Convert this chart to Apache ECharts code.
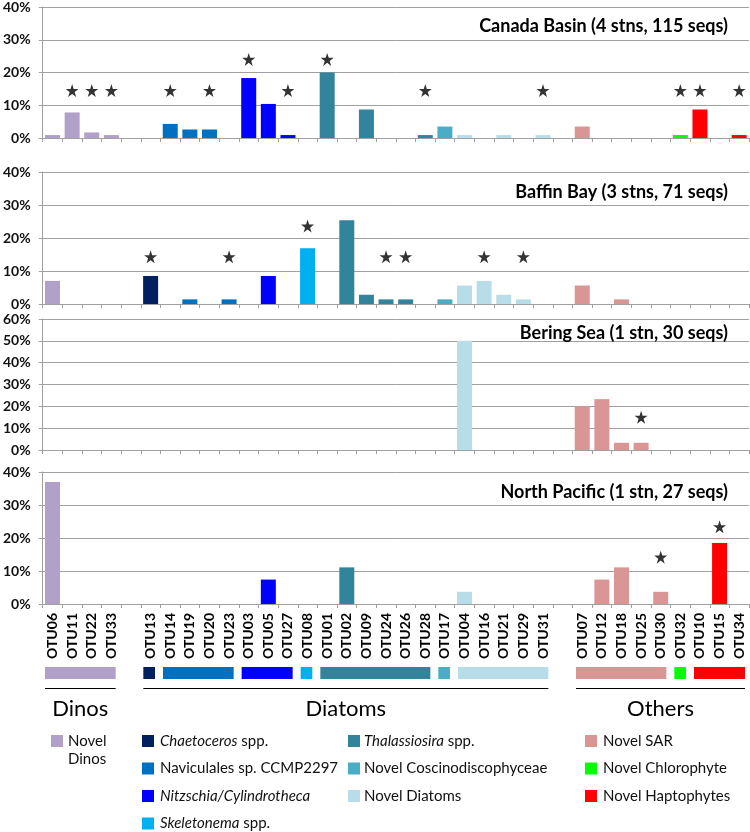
<!DOCTYPE html>
<html><head><meta charset="utf-8">
<script src="https://cdn.jsdelivr.net/npm/echarts@6/dist/echarts.min.js"></script>
<style>html,body{margin:0;padding:0;background:#fff}#c{width:750px;height:832px}</style>
</head><body><div id="c"></div>
<script>
// ---------- DATA ----------
const categories = ['OTU06','OTU11','OTU22','OTU33','',
  'OTU13','OTU14','OTU19','OTU20','OTU23','OTU03','OTU05','OTU27','OTU08','OTU01','OTU02','OTU09','OTU24','OTU26','OTU28','OTU17','OTU04','OTU16','OTU21','OTU29','OTU31',' ',
  'OTU07','OTU12','OTU18','OTU25','OTU30','OTU32','OTU10','OTU15','OTU34'];

const canadaValues  = [0.9,7.8,1.7,0.9,null, 0,4.3,2.6,2.6,0,18.3,10.4,0.9,0,20.0,0,8.7,0,0,0.9,3.5,0.9,0,0.9,0,0.9,null, 3.5,0,0,0,0,0.9,8.7,0,0.9];
const baffinValues  = [7.0,0,0,0,null, 8.5,0,1.4,0,1.4,0,8.5,0,16.9,0,25.4,2.8,1.4,1.4,0,1.4,5.6,7.0,2.8,1.4,0,null, 5.6,0,1.4,0,0,0,0,0,0];
const beringValues  = [0,0,0,0,null, 0,0,0,0,0,0,0,0,0,0,0,0,0,0,0,0,50.0,0,0,0,0,null, 20.0,23.3,3.3,3.3,0,0,0,0,0];
const pacificValues = [37.0,0,0,0,null, 0,0,0,0,0,0,7.4,0,0,0,11.1,0,0,0,0,0,3.7,0,0,0,0,null, 0,7.4,11.1,0,3.7,0,0,18.5,0];

const canadaStars  = [['OTU11',14.5],['OTU22',14.5],['OTU33',14.5],['OTU14',14.5],['OTU20',14.5],['OTU03',24],['OTU27',14.5],['OTU01',24],['OTU28',14.5],['OTU31',14.5],['OTU32',14.5],['OTU10',14.5],['OTU34',14.5]];
const baffinStars  = [['OTU13',14.3],['OTU23',14.3],['OTU08',23.6],['OTU24',14.3],['OTU26',14.3],['OTU16',14.3],['OTU29',14.3]];
const beringStars  = [['OTU25',15]];
const pacificStars = [['OTU30',14.2],['OTU15',23.4]];

const panelTitles = ['Canada Basin (4 stns, 115 seqs)','Baffin Bay (3 stns, 71 seqs)','Bering Sea (1 stn, 30 seqs)','North Pacific (1 stn, 27 seqs)'];
const panelMax = [40,40,60,40];

const groupLabels = ['Novel\nDinos','{i|Chaetoceros} spp.','Naviculales sp. CCMP2297','{i|Nitzschia/Cylindrotheca}','{i|Skeletonema} spp.','{i|Thalassiosira} spp.','Novel Coscinodiscophyceae','Novel Diatoms','Novel SAR','Novel Chlorophyte','Novel Haptophytes'];
const groupColors = ['#b1a0c7','#002060','#0070c0','#0000ff','#00b0f0','#31849b','#4bacc6','#b7dee8','#da9694','#00ff00','#ff0000'];
const groupMembers = [
  ['OTU06','OTU11','OTU22','OTU33'],
  ['OTU13'],
  ['OTU14','OTU19','OTU20','OTU23'],
  ['OTU03','OTU05','OTU27'],
  ['OTU08'],
  ['OTU01','OTU02','OTU09','OTU24','OTU26','OTU28'],
  ['OTU17'],
  ['OTU04','OTU16','OTU21','OTU29','OTU31'],
  ['OTU07','OTU12','OTU18','OTU25','OTU30'],
  ['OTU32'],
  ['OTU10','OTU15','OTU34']
];
const superGroups = [['Dinos','OTU06','OTU33'],['Diatoms','OTU13','OTU31'],['Others','OTU07','OTU34']];

// ---------- LAYOUT ----------
const FONT = 'Lato';
const gridTops = [6,172,319,472];
const gridHeights = [132,132,131,132];
const L = 41, R = 1;

const colorOf = {};
groupMembers.forEach((m,g)=>m.forEach(o=>colorOf[o]=groupColors[g]));

const allValues = [canadaValues,baffinValues,beringValues,pacificValues];
const allStars = [canadaStars,baffinStars,beringStars,pacificStars];

const STAR = 'path://M50,0 L61.8,36.2 L100,36.2 L69.1,58.6 L80.9,95.1 L50,72.7 L19.1,95.1 L30.9,58.6 L0,36.2 L38.2,36.2 Z';

const grids=[], xAxes=[], yAxes=[], series=[], titles=[];
for(let p=0;p<4;p++){
  grids.push({left:L,right:R,top:gridTops[p],height:gridHeights[p]});
  xAxes.push({type:'category',gridIndex:p,data:categories,boundaryGap:true,
    axisLine:{lineStyle:{color:'#a0a0a0',width:1}},
    axisTick:{show:true,interval:0,length:4,lineStyle:{color:'#a0a0a0'}},
    axisLabel:p===3?{show:true,interval:0,rotate:90,margin:9,fontFamily:FONT,fontWeight:'bold',fontSize:14,color:'#000'}:{show:false},
    splitLine:{show:false}});
  yAxes.push({type:'value',gridIndex:p,min:0,max:panelMax[p],interval:10,
    axisLine:{show:true,lineStyle:{color:'#a0a0a0'}},
    axisTick:{show:true,length:4,lineStyle:{color:'#a0a0a0'}},
    axisLabel:{formatter:'{value}%',fontFamily:FONT,fontWeight:'bold',fontSize:14,color:'#111',margin:12},
    splitLine:{lineStyle:{color:'#a0a0a0',width:1}}});
  series.push({type:'bar',xAxisIndex:p,yAxisIndex:p,barWidth:15,
    data:allValues[p].map((v,i)=>({value:v,itemStyle:{color:colorOf[categories[i]]||'#000'}}))});
  series.push({type:'scatter',xAxisIndex:p,yAxisIndex:p,symbol:STAR,symbolSize:13,
    itemStyle:{color:'#000'},z:5,
    data:allStars[p].map(s=>[categories.indexOf(s[0]),s[1]])});
  titles.push({text:panelTitles[p],right:17,top:gridTops[p]+6+(p===2?-6:0),
    textStyle:{fontFamily:FONT,fontWeight:'bold',fontSize:18,color:'#000'}});
}
// annotation grid (group colour strips, brackets, group names)
grids.push({left:L,right:R,top:667,height:12});
xAxes.push({type:'category',gridIndex:4,data:categories,show:false});
yAxes.push({type:'value',gridIndex:4,min:0,max:1,show:false});

series.push({type:'custom',xAxisIndex:4,yAxisIndex:4,clip:false,
  data:groupMembers.map((m,g)=>[categories.indexOf(m[0]),categories.indexOf(m[m.length-1]),g]),
  renderItem:function(params,api){
    const a=api.coord([api.value(0),0]), b=api.coord([api.value(1),0]);
    const band=api.size([1,0])[0];
    const cs=params.coordSys;
    const x0=a[0]-band/2+4, x1=b[0]+band/2-4;
    return {type:'rect',shape:{x:x0,y:cs.y,width:x1-x0,height:cs.height},style:{fill:groupColors[api.value(2)]}};
  }});
series.push({type:'custom',xAxisIndex:4,yAxisIndex:4,clip:false,
  data:superGroups.map((s,k)=>[categories.indexOf(s[1]),categories.indexOf(s[2]),k]),
  renderItem:function(params,api){
    const a=api.coord([api.value(0),0]), b=api.coord([api.value(1),0]);
    const band=api.size([1,0])[0];
    const cs=params.coordSys;
    const x0=a[0]-band/2+4, x1=b[0]+band/2-4;
    const ly=cs.y+21.5;
    return {type:'group',children:[
      {type:'line',shape:{x1:x0,y1:ly,x2:x1,y2:ly},style:{stroke:'#000',lineWidth:1.2}},
      {type:'text',style:{text:superGroups[api.value(2)][0],x:(x0+x1)/2,y:cs.y+42,
        align:'center',verticalAlign:'middle',textAlign:'center',textVerticalAlign:'middle',
        font:'22px '+FONT,fill:'#000'}}
    ]};
  }});

// legend (graphic)
const colX = [[51,68],[142,160],[348,364],[585,603]];
const rowY = [741,768.5,796,823.5];
const legendPos = [[0,0],[1,0],[1,1],[1,2],[1,3],[2,0],[2,1],[2,2],[3,0],[3,1],[3,2]];
const graphics=[];
legendPos.forEach((pos,g)=>{
  const [c,r]=pos; const cy=rowY[r];
  graphics.push({type:'rect',left:colX[c][0],top:cy-6,shape:{width:12,height:12},style:{fill:groupColors[g]}});
  const multi = groupLabels[g].indexOf('\n')>=0;
  graphics.push({type:'text',x:colX[c][1],y:multi?cy-9:cy,
    style:{text:groupLabels[g],fill:'#111',font:'15px '+FONT,lineHeight:18,
      align:'left',verticalAlign:multi?'top':'middle',textAlign:'left',textVerticalAlign:multi?'top':'middle',
      rich:{i:{fontStyle:'italic',fontFamily:FONT,fontSize:15,fill:'#111'}}}});
});

const chart = echarts.init(document.getElementById('c'),null,{renderer:'canvas'});
chart.setOption({animation:false,backgroundColor:'#fff',title:titles,grid:grids,xAxis:xAxes,yAxis:yAxes,series:series,graphic:graphics});
</script></body></html>
